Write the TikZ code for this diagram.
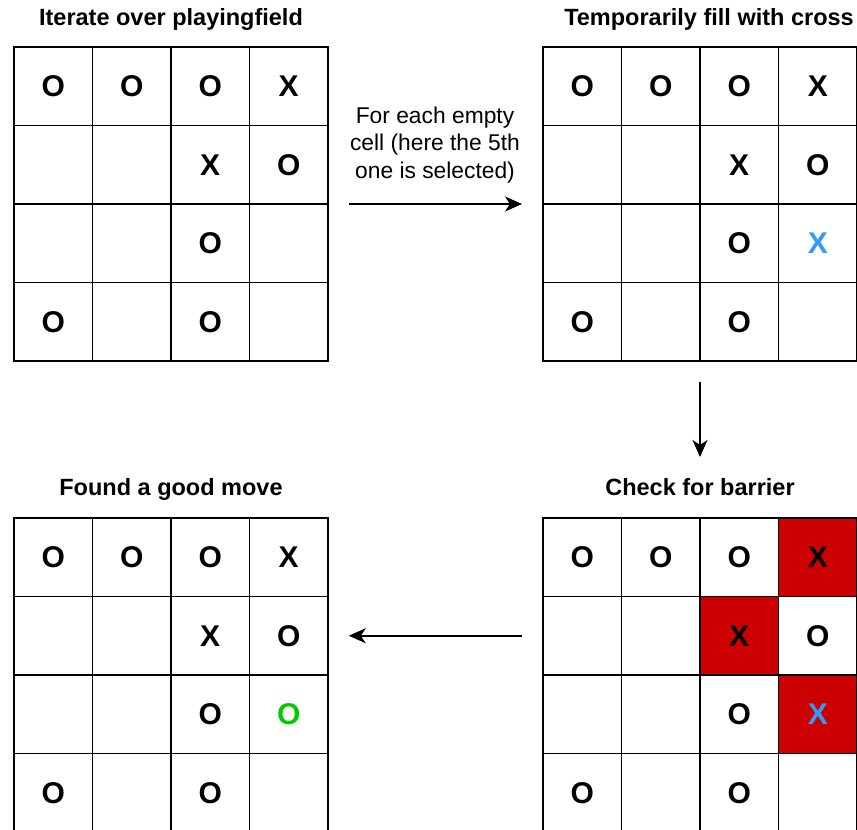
\documentclass[tikz,border=0pt]{standalone}
\usepackage{fontspec}
\setmainfont{Liberation Sans}
\usetikzlibrary{matrix,positioning,arrows.meta}
\definecolor{barrierred}{HTML}{CC0000}
\definecolor{tryblue}{HTML}{3399FF}
\definecolor{movegreen}{HTML}{00CC00}
\tikzset{
  field/.style={matrix of nodes, nodes in empty cells, anchor=north west, inner sep=0pt,
    column sep=-1.6pt, row sep=-1.6pt,
    nodes={draw, line width=1.6pt, minimum size=78.5pt, inner sep=0pt, anchor=center,
      font=\fontsize{30}{30}\selectfont\bfseries}},
  barrier/.style={fill=barrierred},
  ftitle/.style={font=\fontsize{23.5}{23.5}\selectfont\bfseries, inner sep=0pt,
    text height=17pt, text depth=5pt},
  fnote/.style={font=\fontsize{22.8}{27.5}\selectfont, align=center, inner sep=0pt},
  flow/.style={-{Stealth[length=17pt,width=15pt,inset=5pt]}, line width=1.6pt}
}
\begin{document}
\begin{tikzpicture}[x=1pt, y=-1pt]
  \useasboundingbox (0,0) rectangle (857,830);
  % playing fields
  \matrix[field] (iterate) at (13,46) {
    O & O & O & X \\
      &   & X & O \\
      &   & O &   \\
    O &   & O &   \\
  };
  \matrix[field] (fill) at (542,46) {
    O & O & O & X \\
      &   & X & O \\
      &   & O & |[text=tryblue]| X \\
    O &   & O &   \\
  };
  \matrix[field] (check) at (542,517) {
    O & O & O & |[barrier]| X \\
      &   & |[barrier]| X & O \\
      &   & O & |[barrier, text=tryblue]| X \\
    O &   & O &   \\
  };
  \matrix[field] (found) at (13,517) {
    O & O & O & X \\
      &   & X & O \\
      &   & O & |[text=movegreen]| O \\
    O &   & O &   \\
  };
  % titles
  \node[ftitle, above=15pt of iterate] (titerate) {Iterate over playingfield};
  \node[ftitle, above=15pt of fill, xshift=9pt] (tfill) {Temporarily fill with cross};
  \node[ftitle, above=16pt of check] (tcheck) {Check for barrier};
  \node[ftitle, above=16pt of found] (tfound) {Found a good move};
  % steps
  \node[fnote] (note) at (435,145) {For each empty\\cell (here the 5th\\one is selected)};
  \draw[flow] ([xshift=20pt]iterate.east) -- ([xshift=-20pt]fill.west);
  \draw[flow] ([yshift=-20pt]fill.south) -- ([yshift=60pt]check.north);
  \draw[flow] ([xshift=-20pt]check-2-1.west) -- ([xshift=20pt]found-2-4.east);
\end{tikzpicture}
\end{document}
